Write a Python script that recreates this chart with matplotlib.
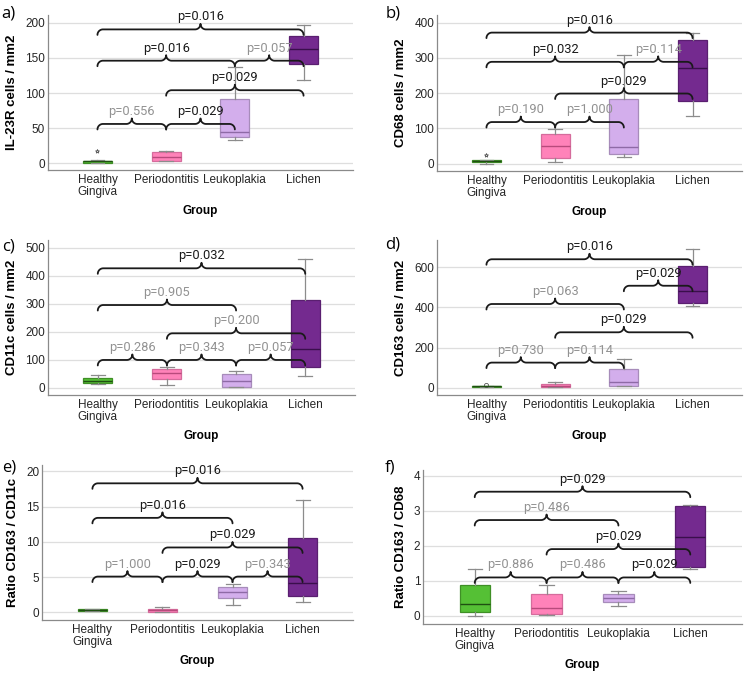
import matplotlib
matplotlib.use("Agg")
import matplotlib.pyplot as plt
import numpy as np

groups = ["Healthy\nGingiva", "Periodontitis", "Leukoplakia", "Lichen"]
fills = ["#55c035", "#ff82b9", "#d3aeec", "#742a8f"]
edges = ["#3f8f26", "#d56c9c", "#a78cba", "#5a1f70"]
medcols = ["#1f4f12", "#b84a7c", "#8e6aa6", "#3a0f4c"]

# five-number summaries per group: (low whisker, q1, median, q3, high whisker)
il23r_box = [(0.5, 1, 3, 4, 5), (3, 3, 9.5, 15.5, 18), (33, 37, 44.5, 92, 137), (118, 141, 163, 181, 197)]
il23r_fliers = [[17], [], [], []]
cd68_box = [(0, 4, 6.5, 9, 10), (5, 16, 51, 85, 97), (19, 26, 46, 184, 308), (135, 177, 272, 350, 372)]
cd68_fliers = [[25], [], [], []]
cd11c_box = [(12, 18, 23, 33, 46), (10, 31, 54, 67, 75), (2, 2, 23, 49, 61), (43, 73, 138, 314, 460)]
cd11c_fliers = [[], [], [], []]
cd163_box = [(3, 4, 6, 7, 8), (3, 3, 10, 18, 27), (10, 10, 30, 93, 143), (409, 422, 480, 608, 690)]
cd163_fliers = [[14], [], [], []]
ratio11c_box = [(0.15, 0.2, 0.3, 0.4, 0.45), (0.05, 0.05, 0.3, 0.52, 0.7), (1.04, 2.04, 2.94, 3.55, 4.0), (1.4, 2.3, 4.2, 10.6, 16.0)]
ratio11c_fliers = [[], [], [], []]
ratio68_box = [(0.01, 0.105, 0.33, 0.89, 1.34), (0.03, 0.05, 0.23, 0.63, 0.89), (0.29, 0.39, 0.51, 0.63, 0.72), (1.35, 1.39, 2.27, 3.14, 3.17)]
ratio68_fliers = [[], [], [], []]

# comparison braces: group pairs, level of the brace, p value
il23r_pairs = [(0, 3), (0, 2), (2, 3), (1, 3), (0, 1), (1, 2)]
il23r_levels = [190.5, 146, 146, 104, 56, 56]
il23r_p = [0.016, 0.016, 0.057, 0.029, 0.556, 0.029]
cd68_pairs = [(0, 3), (0, 2), (2, 3), (1, 3), (0, 1), (1, 2)]
cd68_levels = [372, 289, 289, 199, 118, 118]
cd68_p = [0.016, 0.032, 0.114, 0.029, 0.190, 1.000]
cd11c_pairs = [(0, 3), (0, 2), (1, 3), (0, 1), (1, 2), (2, 3)]
cd11c_levels = [426, 295, 194, 99, 99, 99]
cd11c_p = [0.032, 0.905, 0.200, 0.286, 0.343, 0.057]
cd163_pairs = [(0, 3), (2, 3), (0, 2), (1, 3), (0, 1), (1, 2)]
cd163_levels = [640, 508, 417, 276, 125, 125]
cd163_p = [0.016, 0.029, 0.063, 0.029, 0.730, 0.114]
ratio11c_pairs = [(0, 3), (0, 2), (1, 3), (0, 1), (1, 2), (2, 3)]
ratio11c_levels = [18.3, 13.4, 9.2, 5.07, 5.07, 5.07]
ratio11c_p = [0.016, 0.016, 0.029, 1.000, 0.029, 0.343]
ratio68_pairs = [(0, 3), (0, 2), (1, 3), (0, 1), (1, 2), (2, 3)]
ratio68_levels = [3.55, 2.74, 1.91, 1.10, 1.10, 1.10]
ratio68_p = [0.029, 0.486, 0.029, 0.886, 0.486, 0.029]

W, H = 748, 674
fig = plt.figure(figsize=(W / 100, H / 100), dpi=100)


def add_ax(l, t, r, b):
    return fig.add_axes([l / W, (H - b) / H, (r - l) / W, (b - t) / H])


def brace(ax, x1, x2, y, text, color, r=5.5):
    # curly brace drawn in pixel units of the axes so hooks stay round
    bb = ax.get_position()
    wpx = bb.width * W
    hpx = bb.height * H
    xl = ax.get_xlim()
    yl = ax.get_ylim()
    a = (x1 - xl[0]) / (xl[1] - xl[0]) * wpx
    b = (x2 - xl[0]) / (xl[1] - xl[0]) * wpx
    yb = (y - yl[0]) / (yl[1] - yl[0]) * hpx
    m = (a + b) / 2
    t = np.linspace(0, np.pi / 2, 20)
    c, s = np.cos(t), np.sin(t)
    xs = np.concatenate([a + r - r * c, m - r + r * s, m + r - r * c, b - r + r * s])
    ys = np.concatenate([yb - r + r * s, yb + r - r * c, yb + r - r * s, yb - r + r * c])
    ax.plot(xs / wpx, ys / hpx, color="#1a1a1a", lw=1.3, transform=ax.transAxes,
            clip_on=False, zorder=5, solid_capstyle="round")
    ax.text(m / wpx, (yb + r + 0.5) / hpx, text, transform=ax.transAxes, ha="center",
            va="bottom", fontsize=9.3, color=color, family="Roboto", zorder=6)


def panel(rect, letter, letter_xy, box, fliers, pairs, levels, pvals, ylim, yticks, ylabel, lab_x):
    ax = add_ax(*rect)
    ax.set_xlim(-0.72, 3.72)
    ax.set_ylim(*ylim)
    ax.set_yticks(yticks)
    ax.set_xticks(range(4))
    ax.set_xticklabels(groups, fontsize=8.5, family="Liberation Sans", color="#262626",
                       linespacing=0.95)
    ax.tick_params(axis="both", length=0, pad=3)
    ax.tick_params(axis="y", labelsize=8.5, pad=2)
    for lab in ax.get_yticklabels():
        lab.set_family("Liberation Sans")
        lab.set_color("#262626")
    ax.grid(axis="y", color="#dedede", lw=0.9)
    ax.set_axisbelow(True)
    for s in ["top", "right"]:
        ax.spines[s].set_visible(False)
    for s in ["left", "bottom"]:
        ax.spines[s].set_color("#8a8a8a")
        ax.spines[s].set_linewidth(0.9)

    marker = "o" if letter == "d)" else "*"
    for i, (lo, q1, med, q3, hi) in enumerate(box):
        st = dict(whislo=lo, q1=q1, med=med, q3=q3, whishi=hi, fliers=fliers[i])
        ax.bxp([st], positions=[i], widths=0.42, patch_artist=True,
               boxprops=dict(facecolor=fills[i], edgecolor=edges[i], lw=0.9),
               medianprops=dict(color=medcols[i], lw=1.0),
               whiskerprops=dict(color="#8c8c8c", lw=0.9),
               capprops=dict(color="#8c8c8c", lw=0.9), capwidths=0.2,
               flierprops=dict(marker=marker, markersize=3, markerfacecolor="none",
                               markeredgecolor="#555555", markeredgewidth=0.6),
               manage_ticks=False)

    for (g1, g2), lev, p in zip(pairs, levels, pvals):
        col = "#1a1a1a" if p < 0.05 else "#929292"
        brace(ax, g1, g2, lev, "p=%.3f" % p, col)

    bb = ax.get_position()
    ax.set_ylabel(ylabel, fontsize=9.5, fontweight="bold", family="Liberation Sans")
    ax.yaxis.set_label_coords((lab_x - rect[0]) / (bb.width * W), 0.5)
    ax.set_xlabel("Group", fontsize=8.5, fontweight="bold", family="Liberation Sans")
    ax.xaxis.set_label_coords(0.5, -35 / (bb.height * H))
    fig.text(letter_xy[0] / W, 1 - letter_xy[1] / H, letter, fontsize=12,
             family="Open Sans", ha="left", va="center")
    return ax


panel((48, 15, 353, 170), "a)", (1, 13), il23r_box, il23r_fliers, il23r_pairs, il23r_levels,
      il23r_p, (-9.5, 211), [0, 50, 100, 150, 200], "IL-23R cells / mm2", 18)
panel((437, 15, 742, 171), "b)", (386, 13), cd68_box, cd68_fliers, cd68_pairs, cd68_levels,
      cd68_p, (-21, 422), [0, 100, 200, 300, 400], "CD68 cells / mm2", 407)
panel((48, 240, 355, 395), "c)", (2, 247), cd11c_box, cd11c_fliers, cd11c_pairs, cd11c_levels,
      cd11c_p, (-26, 527), [0, 100, 200, 300, 400, 500], "CD11c cells / mm2", 18)
panel((437, 240, 742, 395), "d)", (385, 245), cd163_box, cd163_fliers, cd163_pairs, cd163_levels,
      cd163_p, (-36.5, 736), [0, 200, 400, 600], "CD163 cells / mm2", 407)
panel((42, 465, 353, 620), "e)", (2, 467), ratio11c_box, ratio11c_fliers, ratio11c_pairs,
      ratio11c_levels, ratio11c_p, (-1.09, 20.9), [0, 5, 10, 15, 20], "Ratio CD163 / CD11c", 19)
panel((423, 470, 742, 624), "f)", (385, 468), ratio68_box, ratio68_fliers, ratio68_pairs,
      ratio68_levels, ratio68_p, (-0.23, 4.17), [0, 1, 2, 3, 4], "Ratio CD163 / CD68", 407)

fig.savefig("out.png", dpi=100)
